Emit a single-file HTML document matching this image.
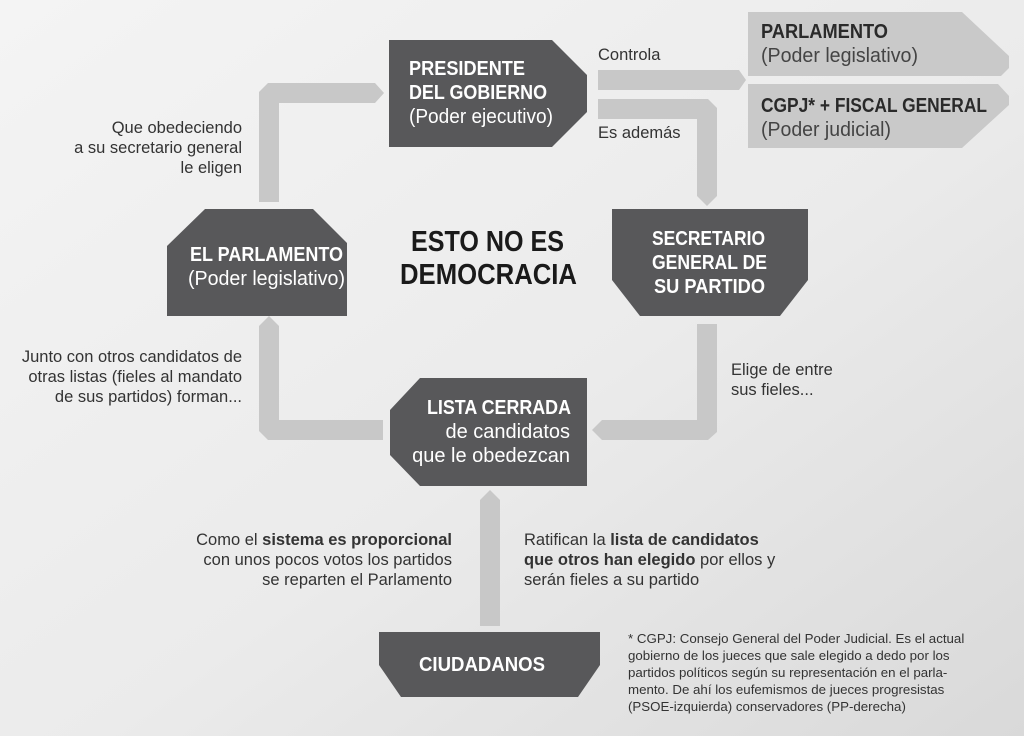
<!DOCTYPE html>
<html><head><meta charset="utf-8"><style>
html,body{margin:0;padding:0;width:1024px;height:736px;overflow:hidden}
svg text{font-family:"Liberation Sans",sans-serif}
</style></head><body>
<svg width="1024" height="736" viewBox="0 0 1024 736" xmlns="http://www.w3.org/2000/svg">
<defs>
<linearGradient id="bg" x1="0" y1="0" x2="1" y2="1">
<stop offset="0" stop-color="#f4f4f4"/><stop offset="0.55" stop-color="#ebebeb"/><stop offset="1" stop-color="#d9d9d9"/>
</linearGradient>
</defs>
<rect width="1024" height="736" fill="url(#bg)"/>
<g fill="#c8c8c8">
<polygon points="259,202 259,92 268,83 375,83 384,93 375,103 279,103 279,202"/>
<polygon points="598,70 739,70 746,80 739,90 598,90"/>
<polygon points="598,99 708,99 717,108 717,196 707,206 697,196 697,119 598,119"/>
<polygon points="697,324 717,324 717,432 708,440 602,440 592,430 602,420 697,420"/>
<polygon points="383,420 383,440 268,440 259,431 259,326 269,316 279,326 279,420"/>
<polygon points="480,626 480,500 490,490 500,500 500,626"/>
</g>
<g fill="#58585a">
<polygon points="389,40 552,40 587,75 587,112 552,147 389,147"/>
<polygon points="167,246 205,209 313,209 347,243 347,316 167,316"/>
<polygon points="612,209 808,209 808,280 780,316 640,316 612,280"/>
<polygon points="420,378 587,378 587,486 420,486 390,455 390,410"/>
<polygon points="379,632 600,632 600,665 578,697 401,697 379,665"/>
</g>
<g fill="#c9c9c9">
<polygon points="748,12 962,12 1009,56 1009,68 1001,76 748,76"/>
<polygon points="748,84 998,84 1009,96 1009,105 962,148 748,148"/>
</g>
<g fill="#fff" font-size="20" lengthAdjust="spacingAndGlyphs">
<text x="409" y="75" font-weight="bold" textLength="116" lengthAdjust="spacingAndGlyphs">PRESIDENTE</text>
<text x="409" y="99" font-weight="bold" textLength="138" lengthAdjust="spacingAndGlyphs">DEL GOBIERNO</text>
<text x="409" y="123" textLength="144" lengthAdjust="spacingAndGlyphs">(Poder ejecutivo)</text>
<text x="190" y="261" font-weight="bold" textLength="153" lengthAdjust="spacingAndGlyphs">EL PARLAMENTO</text>
<text x="188" y="285" textLength="157" lengthAdjust="spacingAndGlyphs">(Poder legislativo)</text>
<text x="652" y="245" font-weight="bold" textLength="113" lengthAdjust="spacingAndGlyphs">SECRETARIO</text>
<text x="652" y="269" font-weight="bold" textLength="115" lengthAdjust="spacingAndGlyphs">GENERAL DE</text>
<text x="654" y="293" font-weight="bold" textLength="111" lengthAdjust="spacingAndGlyphs">SU PARTIDO</text>
<text x="427" y="414" font-weight="bold" textLength="144" lengthAdjust="spacingAndGlyphs">LISTA CERRADA</text>
<text x="570" y="438" text-anchor="end">de candidatos</text>
<text x="570" y="462" text-anchor="end">que le obedezcan</text>
<text x="419" y="671" font-weight="bold" textLength="126" lengthAdjust="spacingAndGlyphs">CIUDADANOS</text>
</g>
<g fill="#2a2a2a" font-size="20">
<text x="761" y="38" font-weight="bold" textLength="127" lengthAdjust="spacingAndGlyphs">PARLAMENTO</text>
<text x="761" y="62" fill="#444" textLength="157" lengthAdjust="spacingAndGlyphs">(Poder legislativo)</text>
<text x="761" y="112" font-weight="bold" textLength="226" lengthAdjust="spacingAndGlyphs">CGPJ* + FISCAL GENERAL</text>
<text x="761" y="136" fill="#444" textLength="130" lengthAdjust="spacingAndGlyphs">(Poder judicial)</text>
</g>
<g fill="#1a1a1a" font-size="29" font-weight="bold">
<text x="411" y="251" textLength="153" lengthAdjust="spacingAndGlyphs">ESTO NO ES</text>
<text x="400" y="284" textLength="177" lengthAdjust="spacingAndGlyphs">DEMOCRACIA</text>
</g>
<g fill="#333" font-size="16.5">
<text x="598" y="60">Controla</text>
<text x="598" y="138">Es además</text>
<text x="242" y="133" text-anchor="end">Que obedeciendo</text>
<text x="242" y="153" text-anchor="end">a su secretario general</text>
<text x="242" y="173" text-anchor="end">le eligen</text>
<text x="242" y="362" text-anchor="end">Junto con otros candidatos de</text>
<text x="242" y="382" text-anchor="end">otras listas (fieles al mandato</text>
<text x="242" y="402" text-anchor="end">de sus partidos) forman...</text>
<text x="731" y="375">Elige de entre</text>
<text x="731" y="395">sus fieles...</text>
<text x="452" y="545" text-anchor="end">Como el <tspan font-weight="bold">sistema es proporcional</tspan></text>
<text x="452" y="565" text-anchor="end">con unos pocos votos los partidos</text>
<text x="452" y="585" text-anchor="end">se reparten el Parlamento</text>
<text x="524" y="545">Ratifican la <tspan font-weight="bold">lista de candidatos</tspan></text>
<text x="524" y="565"><tspan font-weight="bold">que otros han elegido</tspan> por ellos y</text>
<text x="524" y="585">serán fieles a su partido</text>
</g>
<g fill="#333" font-size="13.3">
<text x="628" y="643">* CGPJ: Consejo General del Poder Judicial. Es el actual</text>
<text x="628" y="660">gobierno de los jueces que sale elegido a dedo por los</text>
<text x="628" y="677">partidos políticos según su representación en el parla-</text>
<text x="628" y="694">mento. De ahí los eufemismos de jueces progresistas</text>
<text x="628" y="711">(PSOE-izquierda) conservadores (PP-derecha)</text>
</g>
</svg>
</body></html>
